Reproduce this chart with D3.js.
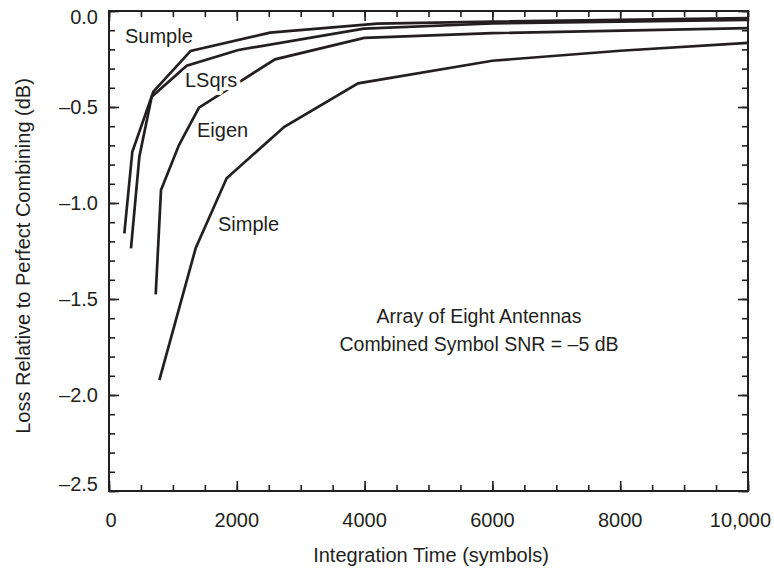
<!DOCTYPE html>
<html><head><meta charset="utf-8">
<script src="https://cdn.jsdelivr.net/npm/d3@7/dist/d3.min.js"></script>
<style>
body{margin:0;background:#fff}
text{font-family:"Liberation Sans",Arial,Helvetica,sans-serif;fill:#231f20}
</style>
</head><body>
<svg id="c" width="774" height="571"></svg>
<script>
// ---- data ----
const xTickValues = [0, 2000, 4000, 6000, 8000, 10000];
const xTickLabels = ["0", "2000", "4000", "6000", "8000", "10,000"];
const yTickValues = [0, -0.5, -1.0, -1.5, -2.0, -2.5];
const yTickLabels = ["0.0", "\u20130.5", "\u20131.0", "\u20131.5", "\u20132.0", "\u20132.5"];
const seriesNames = ["Sumple", "LSqrs", "Eigen", "Simple"];
const sumpleX = [240, 365, 694, 1278, 2520, 4200, 6000, 10000];
const sumpleY = [-1.158, -0.733, -0.420, -0.208, -0.113, -0.066, -0.055, -0.037];
const lsqrsX  = [344, 475, 668, 1216, 2024, 3990, 6000, 10000];
const lsqrsY  = [-1.236, -0.759, -0.446, -0.285, -0.203, -0.092, -0.065, -0.047];
const eigenX  = [731, 814, 1095, 1408, 2598, 3994, 6000, 10000];
const eigenY  = [-1.476, -0.932, -0.698, -0.503, -0.252, -0.140, -0.115, -0.089];
const simpleX = [788, 1356, 1841, 2744, 3898, 6000, 8000, 10000];
const simpleY = [-1.922, -1.236, -0.871, -0.603, -0.377, -0.259, -0.207, -0.166];
const xTitle = "Integration Time (symbols)";
const yTitle = "Loss Relative to Perfect Combining (dB)";
const noteLines = ["Array of Eight Antennas", "Combined Symbol SNR = \u20135 dB"];

// ---- layout ----
const ink = "#231f20";
const svg = d3.select("#c");
const L = 109, R = 748, T = 11, B = 491;
const x = d3.scaleLinear().domain([0, 10000]).range([L, R]);
const y = d3.scaleLinear().domain([-2.5, 0]).range([B, T]);

const minorX = d3.range(0, 10001, 500);
const minorY = d3.range(0, 26).map(i => -i / 10);

function styleAxis(g) {
  g.select(".domain").remove();
  g.selectAll(".tick line").attr("stroke", ink).attr("stroke-width", 1.6);
  g.selectAll(".tick text").remove();
}
// minor + major ticks on all four sides (inward)
[[d3.axisBottom, `translate(0,${B})`, x, minorX, xTickValues],
 [d3.axisTop, `translate(0,${T})`, x, minorX, xTickValues],
 [d3.axisLeft, `translate(${L},0)`, y, minorY, yTickValues],
 [d3.axisRight, `translate(${R},0)`, y, minorY, yTickValues]].forEach(([ax, tr, sc, mn, mj]) => {
  svg.append("g").attr("transform", tr).call(ax(sc).tickValues(mn).tickSize(-6)).call(styleAxis);
  svg.append("g").attr("transform", tr).call(ax(sc).tickValues(mj).tickSize(-10)).call(styleAxis);
});

// frame
svg.append("rect").attr("x", L).attr("y", T).attr("width", R - L).attr("height", B - T)
  .attr("fill", "none").attr("stroke", ink).attr("stroke-width", 2);

// x tick labels
svg.append("g").selectAll("text").data(xTickValues).join("text")
  .attr("x", (d, i) => i === xTickValues.length - 1 ? 771 : x(d) + (i === 0 ? 2 : 0))
  .attr("y", 527)
  .attr("text-anchor", (d, i) => i === xTickValues.length - 1 ? "end" : "middle")
  .attr("font-size", 20)
  .text((d, i) => xTickLabels[i]);

// y tick labels
svg.append("g").selectAll("text").data(yTickValues).join("text")
  .attr("x", 98)
  .attr("y", (d, i) => i === 0 ? y(d) + 13 : (i === yTickValues.length - 1 ? y(d) : y(d) + 7))
  .attr("text-anchor", "end")
  .attr("font-size", 20)
  .text((d, i) => yTickLabels[i]);

// axis titles
svg.append("text").attr("x", 431).attr("y", 562).attr("text-anchor", "middle")
  .attr("font-size", 20).text(xTitle);
svg.append("text").attr("transform", "translate(30,256) rotate(-90)").attr("text-anchor", "middle")
  .attr("font-size", 20).text(yTitle);

// curves
const line = d3.line().x(d => x(d[0])).y(d => y(d[1]));
const series = [[sumpleX, sumpleY], [lsqrsX, lsqrsY], [eigenX, eigenY], [simpleX, simpleY]];
svg.append("g").selectAll("path").data(series).join("path")
  .attr("d", s => line(s[0].map((v, i) => [v, s[1][i]])))
  .attr("fill", "none").attr("stroke", ink).attr("stroke-width", 2.7)
  .attr("stroke-linejoin", "miter");

// curve labels (white halo masks lines behind)
const labelPos = [[125, 43], [185, 87], [197, 137], [218, 231]];
svg.append("g").selectAll("text").data(seriesNames).join("text")
  .attr("x", (d, i) => labelPos[i][0]).attr("y", (d, i) => labelPos[i][1])
  .attr("font-size", 20)
  .attr("stroke", "#fff").attr("stroke-width", 8).attr("paint-order", "stroke")
  .attr("stroke-linejoin", "round")
  .text(d => d);

// annotation
svg.append("g").selectAll("text").data(noteLines).join("text")
  .attr("x", 479).attr("y", (d, i) => 323 + i * 28)
  .attr("text-anchor", "middle").attr("font-size", 19.5)
  .text(d => d);
</script>
</body></html>
